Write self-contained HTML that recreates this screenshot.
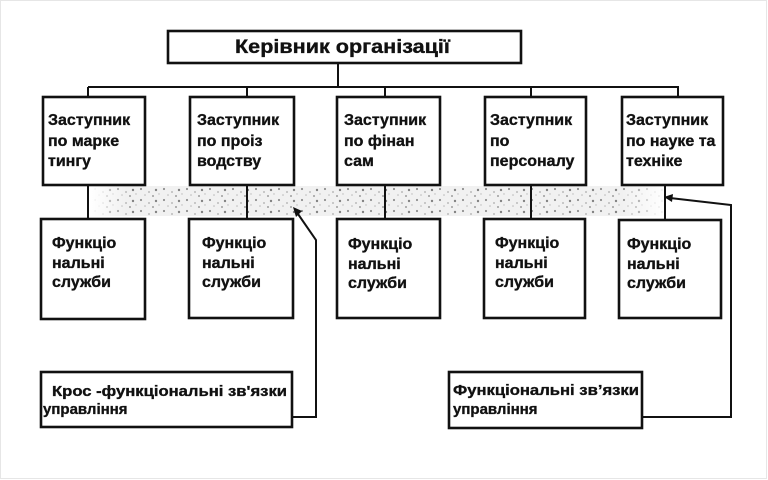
<!DOCTYPE html>
<html><head><meta charset="utf-8"><style>
html,body{margin:0;padding:0;background:#fff;}
svg{display:block;}
text{font-family:"Liberation Sans","DejaVu Sans",sans-serif;font-weight:bold;fill:#111;stroke:#111;stroke-width:0.35;}
</style></head><body>
<svg width="768" height="480" viewBox="0 0 768 480" xmlns="http://www.w3.org/2000/svg">
<defs>
<pattern id="dots" x="0" y="0" width="23" height="11" patternUnits="userSpaceOnUse">
<circle cx="3" cy="2" r="1.1" fill="#777"/>
<circle cx="11" cy="5" r="0.9" fill="#999"/>
<circle cx="18" cy="3" r="1.2" fill="#666"/>
<circle cx="7" cy="8" r="0.8" fill="#aaa"/>
<circle cx="15" cy="9" r="1" fill="#888"/>
<circle cx="21" cy="7" r="0.7" fill="#aaa"/>
</pattern>
<linearGradient id="fade" x1="0" y1="0" x2="1" y2="0">
<stop offset="0" stop-color="#fff" stop-opacity="1"/>
<stop offset="0.06" stop-color="#fff" stop-opacity="0"/>
<stop offset="0.92" stop-color="#fff" stop-opacity="0"/>
<stop offset="1" stop-color="#fff" stop-opacity="1"/>
</linearGradient>
</defs>
<rect x="0.5" y="0.5" width="766" height="478" fill="#fff" stroke="#e6e6e6" stroke-width="1"/>
<!-- noisy band -->
<rect x="92" y="186" width="575" height="30" fill="#f1f1f1"/>
<rect x="92" y="187" width="575" height="28" fill="url(#dots)" opacity="0.8"/>
<rect x="92" y="186" width="575" height="30" fill="url(#fade)"/>

<g fill="none" stroke="#111" stroke-width="2.6">
<rect x="168" y="31" width="353" height="32"/>
<rect x="43" y="97" width="102" height="88"/>
<rect x="190" y="97" width="104" height="88"/>
<rect x="337" y="97" width="103" height="88"/>
<rect x="485" y="97" width="101" height="88"/>
<rect x="622" y="97" width="101" height="88"/>
<rect x="41" y="219" width="104" height="100"/>
<rect x="189" y="219" width="104" height="99"/>
<rect x="337" y="219" width="103" height="99"/>
<rect x="484" y="219" width="101" height="99"/>
<rect x="619" y="220" width="102" height="98"/>
<rect x="41" y="372" width="251" height="55"/>
<rect x="449" y="372" width="193" height="56"/>
</g>

<g fill="none" stroke="#111" stroke-width="2">
<line x1="338" y1="63" x2="338" y2="87"/>
<line x1="88" y1="87" x2="679" y2="87"/>
<line x1="88" y1="87" x2="88" y2="97"/>
<line x1="247" y1="87" x2="247" y2="97"/>
<line x1="385" y1="87" x2="385" y2="97"/>
<line x1="531" y1="87" x2="531" y2="97"/>
<line x1="678" y1="87" x2="678" y2="97"/>
<line x1="88" y1="185" x2="88" y2="219"/>
<line x1="247" y1="185" x2="247" y2="219"/>
<line x1="385" y1="185" x2="385" y2="219"/>
<line x1="531" y1="185" x2="531" y2="219"/>
<line x1="665" y1="185" x2="665" y2="220"/>
<polyline points="298,214 316,240 316,417 292,417"/>
<polyline points="670,198 731,205 731,417 642,417"/>
</g>
<polygon points="293,207 302,211 296,217" fill="#111"/>
<polygon points="664,197 673,194 672,202" fill="#111"/>

<text x="235" y="53" font-size="19" textLength="215" lengthAdjust="spacingAndGlyphs">Керівник організації</text>

<g font-size="16">
<text x="48" y="125">Заступник</text>
<text x="48" y="146">по марке</text>
<text x="48" y="166">тингу</text>
<text x="197" y="125">Заступник</text>
<text x="197" y="146">по проіз</text>
<text x="197" y="166">водству</text>
<text x="344" y="125">Заступник</text>
<text x="344" y="146">по фінан</text>
<text x="344" y="166">сам</text>
<text x="490" y="125">Заступник</text>
<text x="490" y="146">по</text>
<text x="490" y="166">персоналу</text>
<text x="626" y="125">Заступник</text>
<text x="626" y="146">по науке та</text>
<text x="626" y="166">техніке</text>

<text x="52" y="248">Функціо</text>
<text x="52" y="268">нальні</text>
<text x="52" y="287">служби</text>
<text x="202" y="248">Функціо</text>
<text x="202" y="268">нальні</text>
<text x="202" y="287">служби</text>
<text x="348" y="249">Функціо</text>
<text x="348" y="269">нальні</text>
<text x="348" y="288">служби</text>
<text x="495" y="248">Функціо</text>
<text x="495" y="268">нальні</text>
<text x="495" y="287">служби</text>
<text x="627" y="249">Функціо</text>
<text x="627" y="269">нальні</text>
<text x="627" y="288">служби</text>
</g>

<g font-size="15">
<text x="52" y="396" textLength="235" lengthAdjust="spacingAndGlyphs">Крос -функціональні зв'язки</text>
<text x="43" y="414">управління</text>
<text x="453" y="395" textLength="186" lengthAdjust="spacingAndGlyphs">Функціональні зв’язки</text>
<text x="453" y="414">управління</text>
</g>
</svg>
</body></html>
